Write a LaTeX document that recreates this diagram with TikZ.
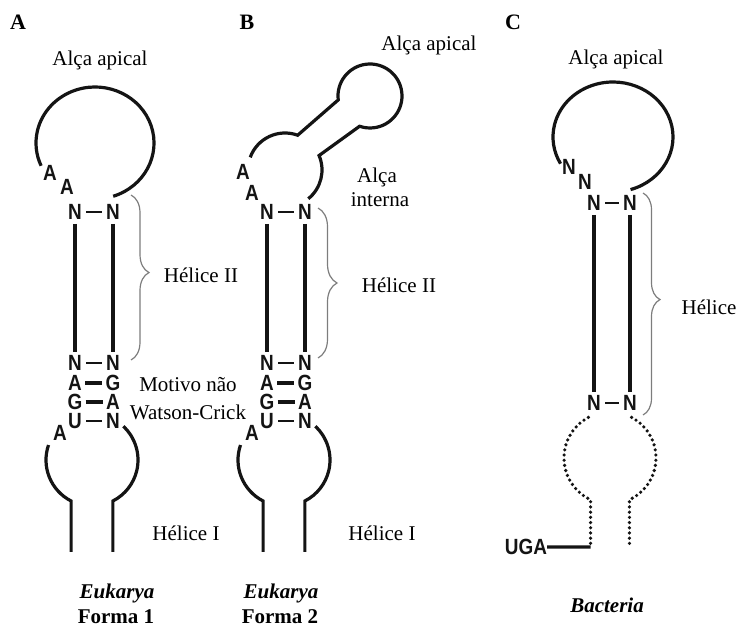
\documentclass[tikz,border=0pt]{standalone}
\usepackage{fontspec}
\setmainfont{Liberation Serif}
\newfontfamily\ntfont[FakeStretch=0.86]{Liberation Sans}
\usepackage{tikz}
\usetikzlibrary{decorations.pathreplacing,calc}
\definecolor{rnaBlack}{RGB}{20,20,20}
\definecolor{rnaGrey} {RGB}{125,125,125}

\begin{document}
\begin{tikzpicture}[x=1pt,y=1pt,
  lbl/.style={font=\fontsize{21}{24}\selectfont,inner sep=0pt},
  pnl/.style={font=\fontsize{22}{24}\selectfont\bfseries,inner sep=0pt},
  sp/.style={font=\fontsize{21}{24}\selectfont\bfseries\itshape,inner sep=0pt,anchor=base},
  fm/.style={font=\fontsize{21}{24}\selectfont\bfseries,inner sep=0pt,anchor=base},
  nt/.style={font=\ntfont\fontsize{22}{22}\selectfont\bfseries,inner sep=0pt,text=rnaBlack},
  strand/.style={line width=3.2pt,rnaBlack},
  stem/.style={strand,shorten <=4pt,shorten >=3pt},
  dots/.style={line width=3.6pt,rnaBlack,line cap=round,dash pattern=on 0pt off 5.2pt},
  bond/.style={line width=2.8pt,rnaBlack,shorten <=4pt,shorten >=4pt},
  wbond/.style={line width=4.8pt,rnaBlack,shorten <=3pt,shorten >=3pt},
  brc/.style={decorate,rnaGrey,line width=1.2pt}
]
\useasboundingbox (0,0) rectangle (739,627);

% panel letters
\node[pnl] (pA) at (18,605)  {A};
\node[pnl] (pB) at (247,605) {B};
\node[pnl] (pC) at (513,605) {C};

% Eukarya stems (forma 1 and forma 2)
\foreach \dx/\pn in {0/A,192/B}{
  \node[nt] (uL\pn) at ({75+\dx},415)  {N};
  \node[nt] (uR\pn) at ({113+\dx},415) {N};
  \node[nt] (aL\pn) at ({75+\dx},264)  {N};
  \node[nt] (aR\pn) at ({113+\dx},264) {N};
  \node[nt] (bL\pn) at ({75+\dx},244)  {A};
  \node[nt] (bR\pn) at ({113+\dx},244) {G};
  \node[nt] (cL\pn) at ({75+\dx},225)  {G};
  \node[nt] (cR\pn) at ({113+\dx},225) {A};
  \node[nt] (dL\pn) at ({75+\dx},206)  {U};
  \node[nt] (dR\pn) at ({113+\dx},206) {N};
  \draw[bond]  (uL\pn.east) -- (uR\pn.west);
  \draw[bond]  (aL\pn.east) -- (aR\pn.west);
  \draw[wbond] (bL\pn.east) -- (bR\pn.west);
  \draw[wbond] (cL\pn.east) -- (cR\pn.west);
  \draw[bond]  (dL\pn.east) -- (dR\pn.west);
  \draw[stem] (uL\pn.south) -- (aL\pn.north);
  \draw[stem] (uR\pn.south) -- (aR\pn.north);
  % lower loop and helix I
  \coordinate (lo\pn) at ({92+\dx},167);
  \node[nt] (xA\pn) at ({60+\dx},194) {A};
  \draw[strand] ([shift={(161:46pt)}]lo\pn) arc[start angle=161,end angle=243,radius=46pt] -- ++(0,-51);
  \draw[strand] ([shift={(47:46pt)}]lo\pn) arc[start angle=47,end angle=-63,radius=46pt] -- ++(0,-51);
}

% A: apical loop
\coordinate (topA) at (95,484);
\node[nt] (aa1) at (50,454) {A};
\node[nt] (aa2) at (67,440) {A};
\draw[strand] ([shift={(-72:59pt and 56pt)}]topA)
   arc[start angle=-72,end angle=204,x radius=59pt,y radius=56pt];
\draw[brc,decoration={brace,amplitude=18pt,aspect=0.47}] (131,432) -- (131,267);

\node[lbl] (apA)  at (100,567) {Alça apical};
\node[lbl] (hIIA) at (201,352) {Hélice II};
\node[lbl] (mot1) at (188,242) {Motivo não};
\node[lbl] (mot2) at (188,215) {Watson-Crick};
\node[lbl] (hIA)  at (186,94)  {Hélice I};
\node[sp]  (euA)  at (117,29)  {Eukarya};
\node[fm]  (fmA)  at (116,4)   {Forma 1};

% B: internal loop, arm and apical loop
\coordinate (inB) at (285,457);
\coordinate (topB) at (370,531);
\node[nt] (ba1) at (243,455) {A};
\node[nt] (ba2) at (252,434) {A};
\draw[strand] ([shift={(160:37pt)}]inB) arc[start angle=160,end angle=70,radius=37pt]
   -- ([shift={(187:32pt)}]topB) arc[start angle=187,end angle=-109,radius=32pt]
   -- ([shift={(23:37pt)}]inB) arc[start angle=23,end angle=-51,radius=37pt];
\draw[brc,decoration={brace,amplitude=19pt,aspect=0.5}] (318,419) -- (318,269);

\node[lbl] (apB)  at (429,582) {Alça apical};
\node[lbl] (int1) at (377,450) {Alça};
\node[lbl] (int2) at (380,427) {interna};
\node[lbl] (hIIB) at (399,342) {Hélice II};
\node[lbl] (hIB)  at (382,94)  {Hélice I};
\node[sp]  (euB)  at (281,29)  {Eukarya};
\node[fm]  (fmB)  at (280,4)   {Forma 2};

% C: bacteria
\coordinate (topC) at (613,490);
\node[nt] (cn1) at (569,460) {N};
\node[nt] (cn2) at (585,445) {N};
\node[nt] (cuL) at (594,424) {N};
\node[nt] (cuR) at (630,424) {N};
\node[nt] (clL) at (594,224) {N};
\node[nt] (clR) at (630,224) {N};
\draw[bond] (cuL.east) -- (cuR.west);
\draw[bond] (clL.east) -- (clR.west);
\draw[stem] (cuL.south) -- (clL.north);
\draw[stem] (cuR.south) -- (clR.north);
\draw[strand] ([shift={(-73:60pt and 55pt)}]topC)
   arc[start angle=-73,end angle=209,x radius=60pt,y radius=55pt];
\draw[brc,decoration={brace,amplitude=17pt,aspect=0.48}] (643,434) -- (643,212);

\coordinate (loC) at (610,169);
\draw[dots] ([shift={(118:46pt)}]loC) arc[start angle=118,end angle=245,radius=46pt]
   -- ++(0,-47.3) coordinate (footC);
\draw[dots] ([shift={(62:46pt)}]loC) arc[start angle=62,end angle=-65,radius=46pt] -- ++(0,-48.3);
\node[nt] (uga) at (526,80) {UGA};
\draw[strand] (uga.east) -- (footC);

\node[lbl] (apC) at (616,568) {Alça apical};
\node[lbl] (hC)  at (709,320) {Hélice};
\node[sp]  (bac) at (607,15)  {Bacteria};
\end{tikzpicture}
\end{document}
